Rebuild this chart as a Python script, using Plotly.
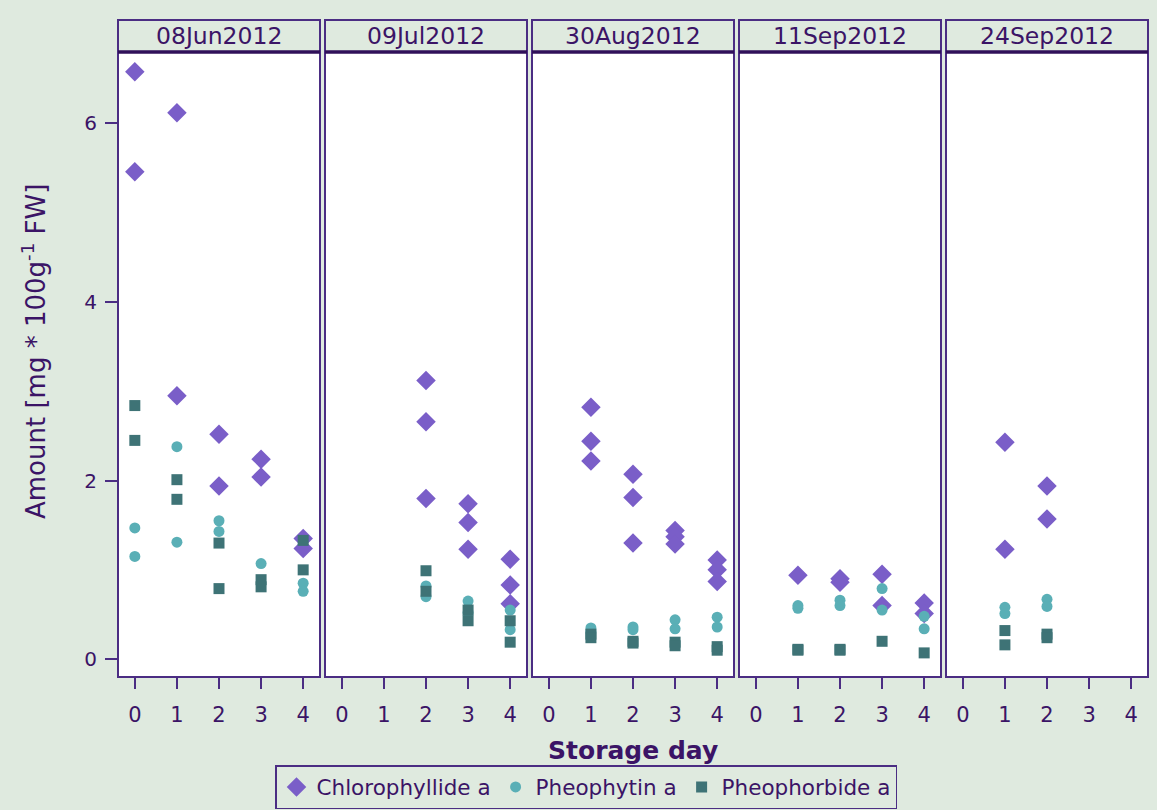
import plotly.graph_objects as go

# Harvest dates (one panel each)
dates = ["08Jun2012", "09Jul2012", "30Aug2012", "11Sep2012", "24Sep2012"]
day_ticks = [0, 1, 2, 3, 4]

# Chlorophyllide a: storage day and amount, per harvest date
chl_days = [
    [0, 0, 1, 1, 2, 2, 3, 3, 4, 4],
    [2, 2, 2, 3, 3, 3, 4, 4, 4],
    [1, 1, 1, 2, 2, 2, 3, 3, 3, 4, 4, 4],
    [1, 2, 2, 3, 3, 4, 4],
    [1, 1, 2, 2],
]
chl_vals = [
    [6.58, 5.46, 6.12, 2.95, 2.52, 1.94, 2.24, 2.04, 1.35, 1.24],
    [3.12, 2.66, 1.80, 1.74, 1.53, 1.23, 1.12, 0.83, 0.62],
    [2.82, 2.44, 2.22, 2.07, 1.81, 1.30, 1.44, 1.37, 1.29, 1.11, 1.00, 0.87],
    [0.94, 0.90, 0.86, 0.95, 0.60, 0.63, 0.51],
    [2.43, 1.23, 1.94, 1.57],
]

# Pheophytin a
phy_days = [
    [0, 0, 1, 1, 2, 2, 3, 4, 4],
    [2, 2, 3, 3, 4, 4],
    [1, 1, 2, 2, 3, 3, 4, 4],
    [1, 1, 2, 2, 3, 3, 4, 4],
    [1, 1, 2, 2],
]
phy_vals = [
    [1.47, 1.15, 2.38, 1.31, 1.55, 1.43, 1.07, 0.85, 0.76],
    [0.82, 0.70, 0.65, 0.52, 0.55, 0.33],
    [0.35, 0.31, 0.36, 0.33, 0.44, 0.34, 0.47, 0.36],
    [0.60, 0.57, 0.66, 0.60, 0.79, 0.55, 0.48, 0.34],
    [0.58, 0.51, 0.67, 0.59],
]

# Pheophorbide a
pho_days = [
    [0, 0, 1, 1, 2, 2, 3, 3, 4, 4],
    [2, 2, 3, 3, 4, 4],
    [1, 1, 2, 2, 3, 3, 4, 4],
    [1, 1, 2, 2, 3, 4],
    [1, 1, 2, 2],
]
pho_vals = [
    [2.84, 2.45, 2.01, 1.79, 1.30, 0.79, 0.89, 0.81, 1.33, 1.00],
    [0.99, 0.76, 0.55, 0.43, 0.43, 0.19],
    [0.28, 0.24, 0.20, 0.18, 0.19, 0.15, 0.14, 0.10],
    [0.11, 0.10, 0.11, 0.10, 0.20, 0.07],
    [0.32, 0.16, 0.28, 0.24],
]

W, H = 1157, 810
BG = "#dfeadf"
INK = "#3b1466"
LINE = "#4b2d83"
FONT = "DejaVu Sans"
series = [
    ("Chlorophyllide a", chl_days, chl_vals, "diamond", 15, "#7a5ec8"),
    ("Pheophytin a", phy_days, phy_vals, "circle", 11, "#5aafb6"),
    ("Pheophorbide a", pho_days, pho_vals, "square", 11, "#3e7376"),
]

# panel placement in pixels
panel_left = [118, 325, 532, 739, 946]
panel_w = 202
plot_top, plot_bot = 52, 677
strip_top = 20

fig = go.Figure()
for p in range(5):
    xa = "x" if p == 0 else f"x{p+1}"
    for name, dd, vv, sym, sz, col in series:
        fig.add_trace(go.Scatter(
            x=dd[p], y=vv[p], mode="markers", name=name,
            legendgroup=name, showlegend=(p == 0),
            marker=dict(symbol=sym, size=sz, color=col, line=dict(width=0)),
            xaxis=xa, yaxis="y",
        ))

layout = dict(
    width=W, height=H,
    paper_bgcolor=BG, plot_bgcolor="white",
    margin=dict(l=0, r=0, t=0, b=0, autoexpand=False),
    font=dict(family=FONT, color=INK, size=20),
    showlegend=True,
    legend=dict(
        orientation="h", x=586 / W, xanchor="center", y=1 - 765 / H, yanchor="top",
        bgcolor=BG, bordercolor=LINE, borderwidth=1.5,
        font=dict(size=21.5, color=INK), itemsizing="trace",
        traceorder="normal", tracegroupgap=0,
    ),
    yaxis=dict(
        domain=[1 - plot_bot / H, 1 - plot_top / H],
        range=[-0.2, 6.8], tickvals=[0, 2, 4, 6],
        showgrid=False, zeroline=False, automargin=False,
        showline=False, ticks="outside", ticklen=12, tickwidth=1.5,
        tickcolor=LINE, anchor="x", tickfont=dict(size=20, color=INK),
        ticklabelstandoff=4,
    ),
)
shapes = []
annotations = []
for p in range(5):
    key = "xaxis" if p == 0 else f"xaxis{p+1}"
    x0 = panel_left[p] / W
    x1 = (panel_left[p] + panel_w) / W
    layout[key] = dict(
        domain=[x0, x1], range=[-0.4, 4.4], tickvals=day_ticks,
        showgrid=False, zeroline=False, showline=False, automargin=False,
        ticks="outside", ticklen=11, tickwidth=1.5, tickcolor=LINE,
        anchor="y", tickfont=dict(size=21, color=INK),
        ticklabelstandoff=8,
    )
    # panel frame
    shapes.append(dict(type="rect", xref="paper", yref="paper",
                       x0=x0, x1=x1, y0=1 - plot_bot / H, y1=1 - plot_top / H,
                       line=dict(color=LINE, width=2), fillcolor="rgba(0,0,0,0)",
                       layer="above"))
    # strip header
    shapes.append(dict(type="rect", xref="paper", yref="paper",
                       x0=x0, x1=x1, y0=1 - plot_top / H, y1=1 - strip_top / H,
                       line=dict(color=LINE, width=2), fillcolor=BG,
                       layer="above"))
    shapes.append(dict(type="line", xref="paper", yref="paper",
                       x0=x0, x1=x1, y0=1 - plot_top / H, y1=1 - plot_top / H,
                       line=dict(color="#30105a", width=3.5), layer="above"))
    annotations.append(dict(text=dates[p], xref="paper", yref="paper",
                            x=(x0 + x1) / 2, y=1 - (strip_top + plot_top) / 2 / H,
                            xanchor="center", yanchor="middle", showarrow=False,
                            font=dict(size=23.5, color=INK)))

annotations.append(dict(text="<b>Storage day</b>", xref="paper", yref="paper",
                        x=633 / W, y=1 - 750 / H, xanchor="center", yanchor="middle",
                        showarrow=False, font=dict(size=25, color=INK)))
annotations.append(dict(text="Amount [mg * 100g<sup>-1</sup> FW]", xref="paper", yref="paper",
                        x=34 / W, y=1 - 352 / H, xanchor="center", yanchor="middle",
                        textangle=-90, showarrow=False, font=dict(size=26, color=INK)))
layout["shapes"] = shapes
layout["annotations"] = annotations
fig.update_layout(**layout)
fig.write_html("out.html")
